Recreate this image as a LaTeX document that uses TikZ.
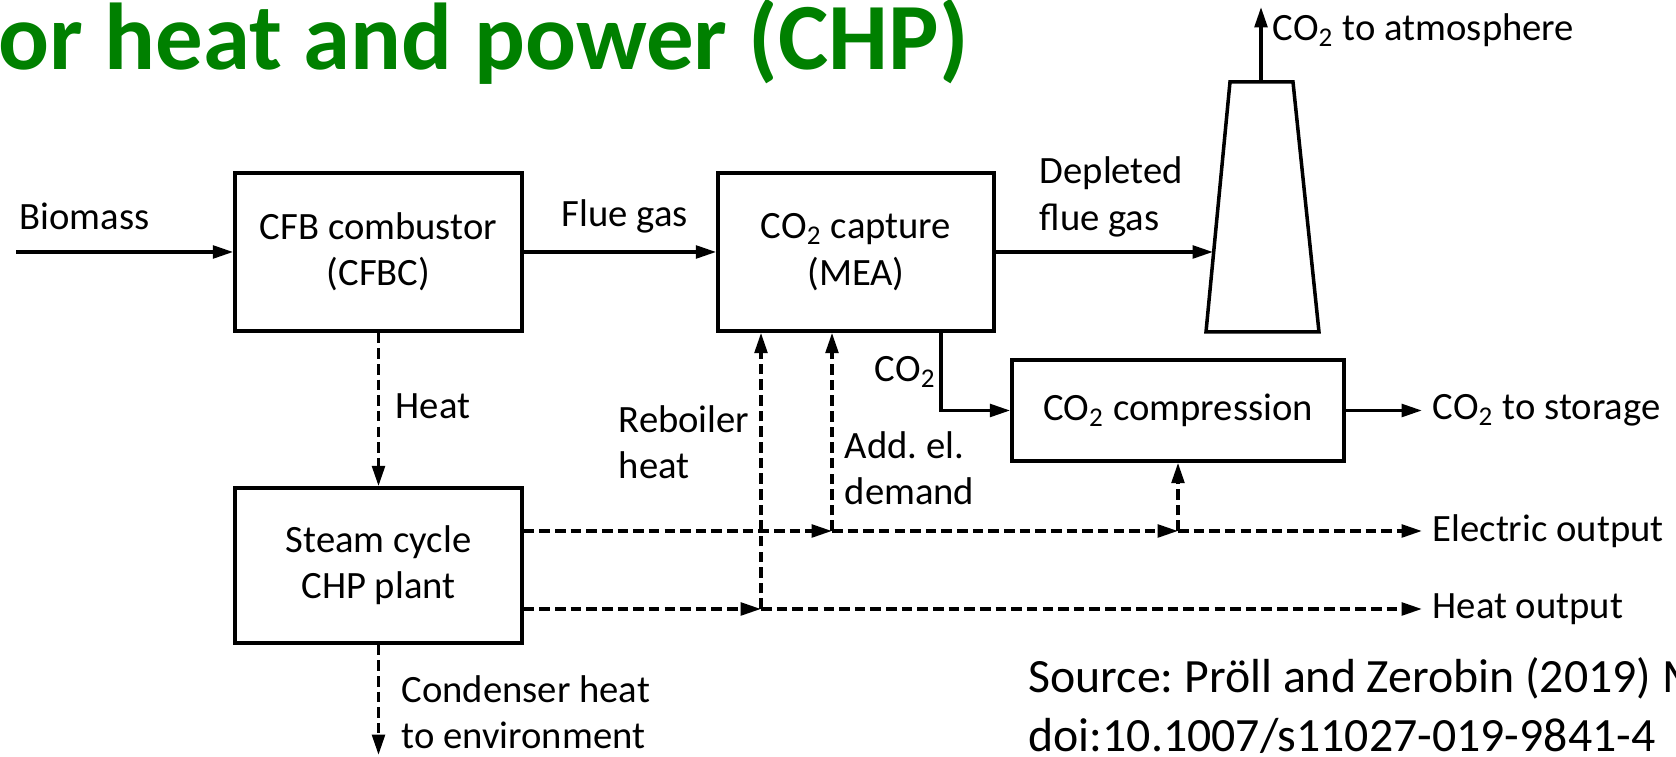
\documentclass[tikz,border=0pt]{standalone}
\usepackage{fontspec}
\setmainfont{Carlito}
\usetikzlibrary{arrows.meta}
\definecolor{titlegreen}{RGB}{0,128,0}
\newcommand{\labelfont}{\fontsize{11}{13.2}\selectfont}
\newcommand{\cotwo}{CO\textsubscript{2}}
\frenchspacing

\begin{document}
\begin{tikzpicture}[x=1cm,y=-1cm,>={Triangle[length=5.8pt,width=3.6pt]}]
\tikzstyle{unit}=[draw, line width=1pt, align=center, inner sep=2pt, font=\labelfont]
\tikzstyle{stream}=[line width=1pt]
\tikzstyle{energy}=[line width=1pt, dash pattern=on 3pt off 1.45pt]
\tikzstyle{labeltext}=[font=\labelfont, align=left, inner sep=0pt]
\tikzstyle{headline}=[font=\fontsize{27}{32}\selectfont\bfseries, text=titlegreen, inner sep=0pt]
\tikzstyle{sourcetext}=[font=\fontsize{13.6}{16.7}\selectfont, align=left, inner sep=0pt]

\useasboundingbox (0,0) rectangle (16.76,7.57);
\clip (0,0) rectangle (16.76,7.57);

% Title (cut by the frame)
\node[headline, anchor=base west] (title) at (-0.02,0.70) {or heat and power (CHP)};

% Units
\node[unit, minimum width=2.87cm, minimum height=1.58cm] (cfbc) at (3.785,2.52) {CFB combustor\\(CFBC)};
\node[unit, minimum width=2.76cm, minimum height=1.58cm] (capture) at (8.56,2.52) {\cotwo{} capture\\(MEA)};
\node[unit, minimum width=3.32cm, minimum height=1.01cm] (compress) at (11.78,4.105) {\cotwo{} compression};
\node[unit, minimum width=2.87cm, minimum height=1.55cm] (steam) at (3.785,5.655) {Steam cycle\\CHP plant};

% Stack
\draw[stream] (12.06,3.32) -- (12.30,0.82) -- (12.93,0.82) -- (13.19,3.32) -- cycle;
\coordinate (stacktop) at (12.61,0.82);
\coordinate (stackin) at (12.13,2.52);
\coordinate (atm) at (12.61,0.07);

% Free ends
\coordinate (feed) at (0.16,2.52);
\coordinate (store) at (14.22,4.105);
\coordinate (elA) at (8.32,5.31);
\coordinate (elB) at (11.78,5.31);
\coordinate (elout) at (14.22,5.31);
\coordinate (htA) at (7.61,6.09);
\coordinate (htout) at (14.22,6.09);
\coordinate (env) at (3.785,7.55);

% Material streams
\draw[stream,->] (feed) -- (cfbc.west);
\draw[stream,->] (cfbc.east) -- (capture.west);
\draw[stream,->] (capture.east) -- (stackin);
\draw[stream,->] (stacktop) -- (atm);
\draw[stream,->] ([xshift=0.85cm]capture.south) |- (compress.west);
\draw[stream,->] (compress.east) -- (store);

% Energy streams
\draw[energy,->] (cfbc.south) -- (steam.north);
\draw[energy,->] (steam.east |- elA) -- (elA);
\draw[energy,->] (elA) -- (elB);
\draw[energy,->] (elB) -- (elout);
\draw[energy,->] (elA) -- (capture.south -| elA);
\draw[energy,->] (elB) -- (compress.south);
\draw[energy,->] (steam.east |- htA) -- (htA);
\draw[energy,->] (htA) -- (htout);
\draw[energy,->] (htA) -- (capture.south -| htA);
\draw[energy,->] (steam.south) -- (env);

% Labels
\node[labeltext, anchor=west] (lbbiomass) at (0.19,2.16) {Biomass};
\node[labeltext, anchor=west] (lbflue) at (5.61,2.16) {Flue gas};
\node[labeltext, anchor=west] (lbdepleted) at (10.39,1.97) {Depleted\\flue gas};
\node[labeltext, anchor=west] (lbatm) at (12.72,0.30) {\cotwo{} to atmosphere};
\node[labeltext, anchor=east] (lbco2) at (9.37,3.72) {\cotwo};
\node[labeltext, anchor=west] (lbstore) at (14.32,4.105) {\cotwo{} to storage};
\node[labeltext, anchor=west] (lbheat) at (3.95,4.06) {Heat};
\node[labeltext, anchor=west] (lbreboiler) at (6.18,4.42) {Reboiler\\heat};
\node[labeltext, anchor=west] (lbaddel) at (8.44,4.685) {Add. el.\\demand};
\node[labeltext, anchor=west] (lbelout) at (14.32,5.31) {Electric output};
\node[labeltext, anchor=west] (lbhtout) at (14.32,6.09) {Heat output};
\node[labeltext, anchor=west] (lbcond) at (4.01,7.12) {Condenser heat\\to environment};

% Source
\node[sourcetext, anchor=west] (source) at (10.28,7.055) {Source: Pröll and Zerobin (2019) M\\doi:10.1007/s11027-019-9841-4};
\end{tikzpicture}
\end{document}
